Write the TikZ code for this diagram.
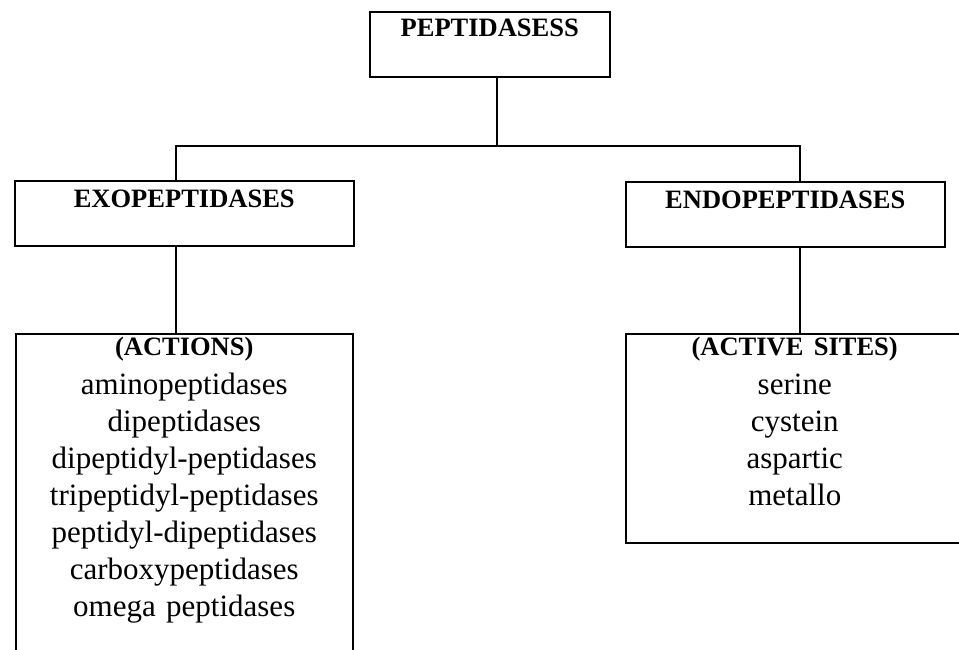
\documentclass[tikz,border=0pt]{standalone}
\usepackage{fontspec}
\setmainfont{Liberation Serif}
\usetikzlibrary{positioning}

\begin{document}
\begin{tikzpicture}[x=1pt, y=-1pt,
  line width=1.5pt,
  box/.style={rectangle, draw, inner sep=0pt, anchor=north west, align=center},
  head/.style={box, font=\fontsize{26.5}{37}\selectfont\bfseries,
               text height=27pt, text depth=38pt},
  list/.style={box, font=\fontsize{31}{37}\selectfont, text height=22pt},
  link/.style={line width=1.5pt}]

  \useasboundingbox (0,0) rectangle (959,649);

  \node[head, text width=240pt, text height=25pt, text depth=40pt] (pep) at (369,11) {PEPTIDASESS};
  % level 2
  \node[head, text width=339pt] (exo) at (14,180) {EXOPEPTIDASES};
  \node[head, text width=319pt] (endo) at (625,181) {ENDOPEPTIDASES};
  % level 3
  \node[list, text width=337pt, text depth=305pt] (actions) at (15,333)
    {{\fontsize{26.5}{37}\selectfont\bfseries (ACTIONS)}\\[2pt]
     aminopeptidases\\ dipeptidases\\ dipeptidyl-peptidases\\
     tripeptidyl-peptidases\\ peptidyl-dipeptidases\\
     carboxypeptidases\\ omega peptidases};
  \node[list, text width=338pt, text depth=187pt] (sites) at (625,333)
    {{\fontsize{26.5}{37}\selectfont\bfseries (ACTIVE SITES)}\\[2pt]
     serine\\ cystein\\ aspartic\\ metallo};

  \coordinate (hub) at (497,146);
  \coordinate (hubL) at (176,146);
  \coordinate (hubR) at (800,146);

  \draw[link] (pep.south -| hub) -- (hub);
  \draw[link] (exo.north -| hubL) -- (hubL) -- (hubR) -- (endo.north -| hubR);
  \draw[link] (exo.south -| hubL) -- (actions.north -| hubL);
  \draw[link] (endo.south -| hubR) -- (sites.north -| hubR);
\end{tikzpicture}
\end{document}
